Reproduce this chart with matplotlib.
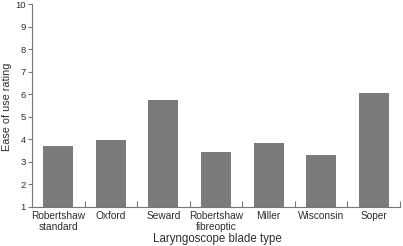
import numpy as np
import matplotlib.pyplot as plt

blades = ["Robertshaw\nstandard", "Oxford", "Seward", "Robertshaw\nfibreoptic",
          "Miller", "Wisconsin", "Soper"]
ratings = [3.72, 3.96, 5.76, 3.43, 3.84, 3.30, 6.07]
yticks = list(range(1, 11))

plt.rcParams["font.family"] = ["Liberation Sans", "DejaVu Sans"]
txt = "#2e2e2e"
axc = "#777777"

fig = plt.figure(figsize=(4.03, 2.46), dpi=100)
ax = fig.add_axes([32 / 403, 1 - 207 / 246, 368 / 403, (207 - 4.3) / 246])

x = np.arange(len(blades))
ax.bar(x, ratings, width=0.57, color="#7b7b7b", zorder=2)

ax.set_xlim(-0.5, len(blades) - 0.5)
ax.set_ylim(1, 10)
ax.set_yticks(yticks)
ax.set_xticks(x)
ax.set_xticklabels(blades, fontsize=7.3, color=txt, linespacing=1.1)
ax.set_xticks(np.arange(len(blades)) + 0.5, minor=True)
ax.tick_params(axis="x", which="major", length=0, pad=3)
ax.tick_params(axis="x", which="minor", direction="in", length=4.5, color=axc, width=0.8)
ax.tick_params(axis="y", direction="out", length=3, color=axc, width=0.8,
               labelsize=6.8, labelcolor=txt, pad=1.5)

for s in ["top", "right"]:
    ax.spines[s].set_visible(False)
for s in ["left", "bottom"]:
    ax.spines[s].set_color(axc)
    ax.spines[s].set_linewidth(0.8)

ax.set_ylabel("Ease of use rating", fontsize=7.8, color=txt)
ax.yaxis.set_label_coords(-0.068, 0.495)
ax.set_xlabel("Laryngoscope blade type", fontsize=8.3, color=txt)
ax.xaxis.set_label_coords(0.503, -0.157)
ax.xaxis.label.set_va("center")
ax.yaxis.label.set_va("center")

fig.savefig("out.png", dpi=100)
